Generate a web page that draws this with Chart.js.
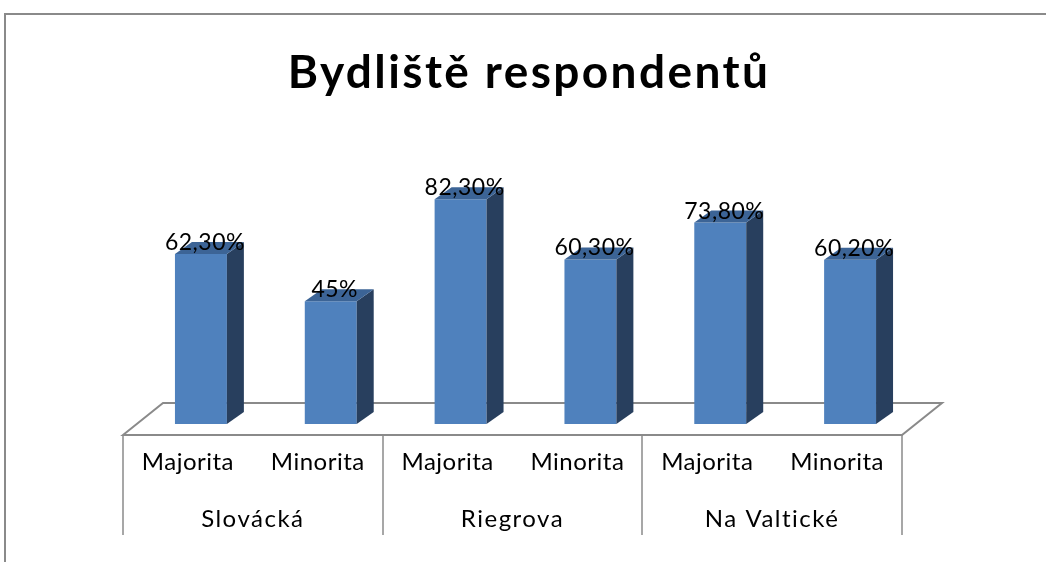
<!DOCTYPE html>
<html>
<head>
<meta charset="utf-8">
<script src="https://cdn.jsdelivr.net/npm/chart.js"></script>
<style>
  body { margin: 0; background: #fff; }
  #wrap { width: 1046px; height: 562px; position: relative; }
</style>
</head>
<body>
<div id="wrap"><canvas id="barChart" width="1046" height="562"></canvas></div>
<script>
// data
const chartTitle = 'Bydliště respondentů';
const groups = ['Slovácká', 'Riegrova', 'Na Valtické'];
const subgroups = ['Majorita', 'Minorita'];
const categories = ['Slovácká Majorita', 'Slovácká Minorita', 'Riegrova Majorita', 'Riegrova Minorita', 'Na Valtické Majorita', 'Na Valtické Minorita'];
const values = [62.3, 45, 82.3, 60.3, 73.8, 60.2];
const valueLabels = ['62,30%', '45%', '82,30%', '60,30%', '73,80%', '60,20%'];

const frontColor = '#4f81bd';
const sideColor = '#283f5e';
const topColor = '#3c6496';
const lineColor = '#8a8a8a';
const fontFamily = 'Lato, "Open Sans", sans-serif';

// 3D depth of the bars / floor
const depthX = 17, depthY = 12;
const floorFront = { dx: -13, dy: 11 };
const floorBack = { dx: 27, dy: -21 };

const fakeThreeD = {
    id: 'fakeThreeD',
    beforeDatasetsDraw(chart) {
        const { ctx, chartArea } = chart;
        const yBase = chart.scales.y.getPixelForValue(0);
        ctx.save();
        // outer frame
        ctx.strokeStyle = lineColor;
        ctx.lineWidth = 2;
        ctx.beginPath();
        ctx.moveTo(5, 562);
        ctx.lineTo(5, 14);
        ctx.lineTo(1046, 14);
        ctx.stroke();
        // floor
        ctx.beginPath();
        ctx.moveTo(chartArea.left + floorFront.dx, yBase + floorFront.dy);
        ctx.lineTo(chartArea.left + floorBack.dx, yBase + floorBack.dy);
        ctx.lineTo(chartArea.right + floorBack.dx, yBase + floorBack.dy);
        ctx.lineTo(chartArea.right + floorFront.dx, yBase + floorFront.dy);
        ctx.closePath();
        ctx.fillStyle = '#fff';
        ctx.fill();
        ctx.stroke();
        ctx.restore();
    },
    afterDatasetsDraw(chart) {
        const { ctx, chartArea } = chart;
        const meta = chart.getDatasetMeta(0);
        ctx.save();
        meta.data.forEach((bar, i) => {
            const left = bar.x - bar.width / 2;
            const right = bar.x + bar.width / 2;
            // side face
            ctx.fillStyle = sideColor;
            ctx.beginPath();
            ctx.moveTo(right, bar.y);
            ctx.lineTo(right + depthX, bar.y - depthY);
            ctx.lineTo(right + depthX, bar.base - depthY);
            ctx.lineTo(right, bar.base);
            ctx.closePath();
            ctx.fill();
            // top face
            ctx.fillStyle = topColor;
            ctx.beginPath();
            ctx.moveTo(left, bar.y);
            ctx.lineTo(left + depthX, bar.y - depthY);
            ctx.lineTo(right + depthX, bar.y - depthY);
            ctx.lineTo(right, bar.y);
            ctx.closePath();
            ctx.fill();
            // value label
            ctx.fillStyle = '#000';
            ctx.font = '23px ' + fontFamily;
            ctx.letterSpacing = '0.5px';
            ctx.textAlign = 'center';
            ctx.textBaseline = 'alphabetic';
            ctx.fillText(valueLabels[i], bar.x + 4, bar.y - 4);
        });

        // two-level category axis on the floor front edge
        const xScale = chart.scales.x;
        const yBase = chart.scales.y.getPixelForValue(0);
        const axisTop = yBase + floorFront.dy;
        const slot = (chartArea.right - chartArea.left) / categories.length;
        ctx.strokeStyle = lineColor;
        ctx.lineWidth = 1.5;
        for (let g = 0; g <= groups.length; g++) {
            const x = Math.round(chartArea.left + floorFront.dx + g * subgroups.length * slot);
            ctx.beginPath();
            ctx.moveTo(x, axisTop);
            ctx.lineTo(x, axisTop + 100);
            ctx.stroke();
        }
        ctx.fillStyle = '#000';
        ctx.textAlign = 'center';
        ctx.font = '24px ' + fontFamily;
        ctx.letterSpacing = '0.5px';
        categories.forEach((c, i) => {
            const x = xScale.getPixelForValue(i) + floorFront.dx;
            ctx.fillText(subgroups[i % subgroups.length], x, axisTop + 35);
        });
        ctx.letterSpacing = '1.5px';
        groups.forEach((g, i) => {
            const x = chartArea.left + floorFront.dx + (i + 0.5) * subgroups.length * slot;
            ctx.fillText(g, x, axisTop + 92);
        });

        // title
        ctx.font = 'bold 46px ' + fontFamily;
        ctx.letterSpacing = '2.4px';
        ctx.fillText(chartTitle, 529, 88);
        ctx.restore();
    }
};

const ctx = document.getElementById('barChart');
new Chart(ctx, {
    type: 'bar',
    data: {
        labels: categories,
        datasets: [{
            data: values,
            backgroundColor: frontColor,
            borderWidth: 0,
            barPercentage: 0.4,
            categoryPercentage: 1
        }]
    },
    options: {
        responsive: false,
        animation: false,
        layout: { padding: { left: 136, right: 131, top: 151, bottom: 138 } },
        plugins: {
            legend: { display: false },
            title: { display: false },
            tooltip: { enabled: false }
        },
        scales: {
            x: { display: false },
            y: { display: false, min: 0, max: 100 }
        }
    },
    plugins: [fakeThreeD]
});
</script>
</body>
</html>
